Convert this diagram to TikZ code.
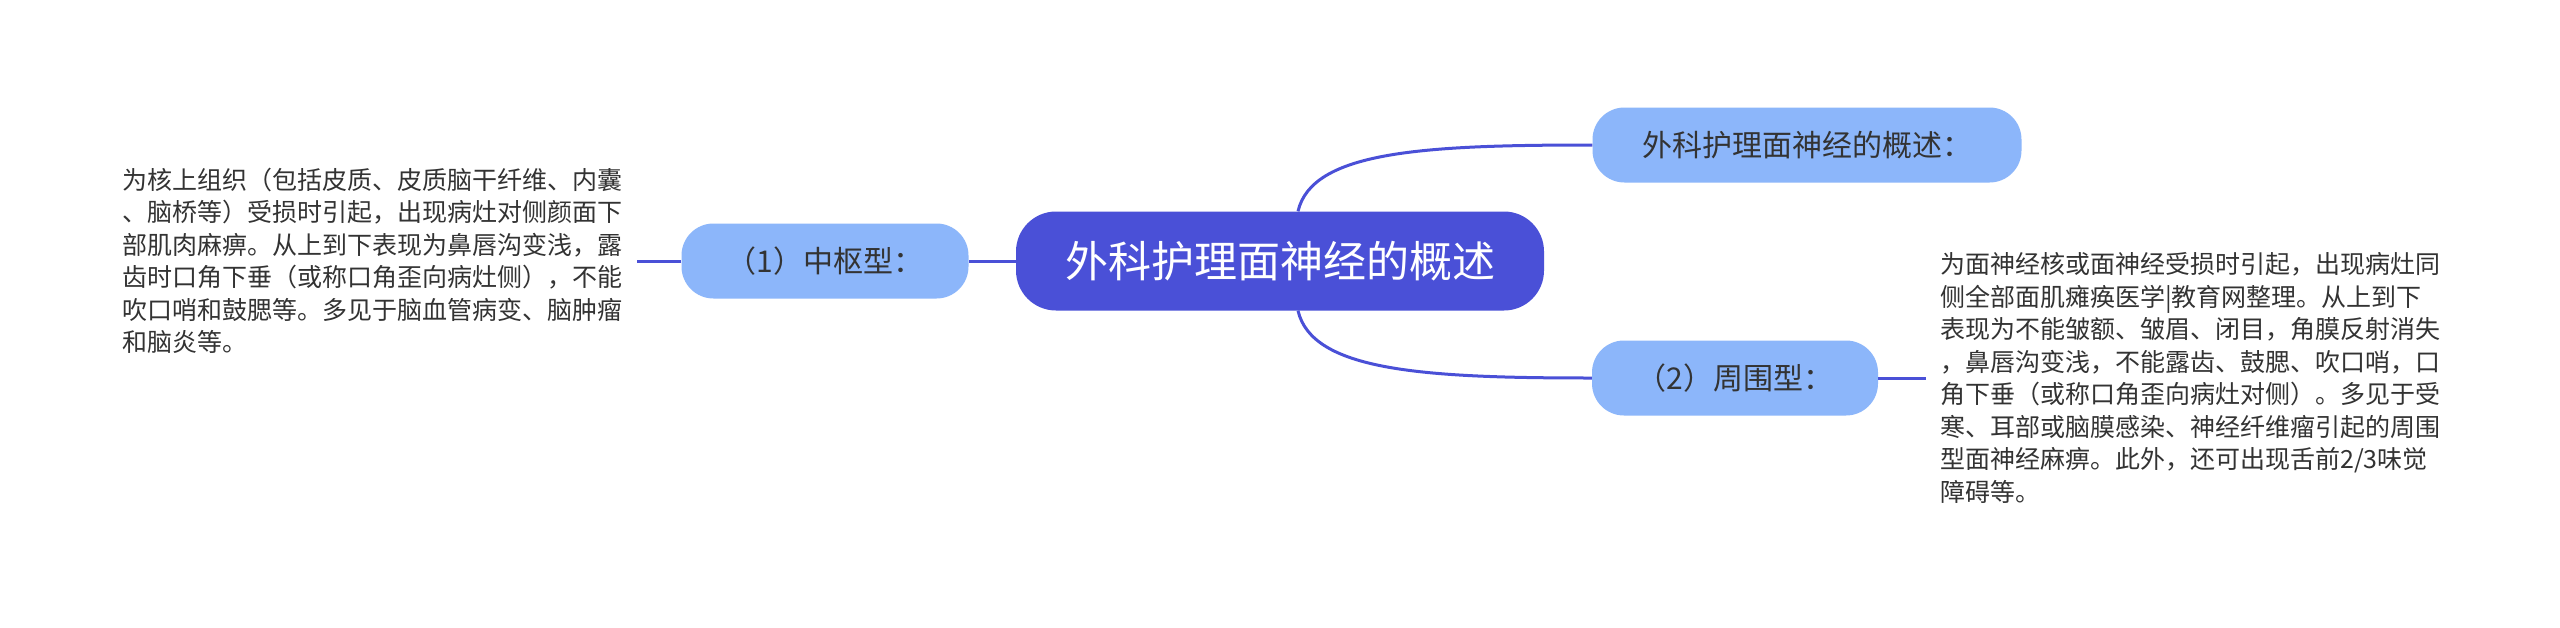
\documentclass[tikz,border=0pt]{standalone}
\usepackage{fontspec}
\setmainfont{Noto Sans CJK SC}
\definecolor{rootblue}{HTML}{4A50D7}
\definecolor{subblue}{HTML}{8CB6FA}
\definecolor{txt}{HTML}{333333}
\tikzset{
  root/.style={fill=rootblue, rounded corners=40pt, minimum width=528pt, minimum height=99pt, inner sep=0pt, text=white, font=\fontsize{43}{50}\selectfont},
  sub/.style={fill=subblue, rounded corners=32pt, minimum height=75pt, inner sep=0pt, text=txt, font=\fontsize{30}{36}\selectfont},
  para/.style={text width=500pt, align=left, inner sep=0pt, text=txt, font=\fontsize{25}{32.5}\selectfont},
  link/.style={draw=rootblue, line width=3pt}
}
\begin{document}
\begin{tikzpicture}[x=1pt,y=-1pt]
\useasboundingbox[fill=white] (0,0) rectangle (2560,627);
\node[root] (c) at (1280,261) {外科护理面神经的概述};
\node[sub, minimum width=429pt] (t) at (1807,145) {外科护理面神经的概述：};
\node[sub, minimum width=286pt] (b) at (1735,378) {（2）周围型：};
\node[sub, minimum width=287pt] (l) at (825,261) {（1）中枢型：};
\node[para, anchor=west] (lt) at (122,261) {为核上组织（包括皮质、皮质脑干纤维、内囊\\、脑桥等）受损时引起，出现病灶对侧颜面下\\部肌肉麻痹。从上到下表现为鼻唇沟变浅，露\\齿时口角下垂（或称口角歪向病灶侧），不能\\吹口哨和鼓腮等。多见于脑血管病变、脑肿瘤\\和脑炎等。};
\node[para, anchor=west] (rt) at (1940,378) {为面神经核或面神经受损时引起，出现病灶同\\侧全部面肌瘫痪医学|教育网整理。从上到下\\表现为不能皱额、皱眉、闭目，角膜反射消失\\，鼻唇沟变浅，不能露齿、鼓腮、吹口哨，口\\角下垂（或称口角歪向病灶对侧）。多见于受\\寒、耳部或脑膜感染、神经纤维瘤引起的周围\\型面神经麻痹。此外，还可出现舌前2/3味觉\\障碍等。};
\draw[link] ([xshift=18pt]c.north) .. controls ([xshift=32pt,yshift=60pt]c.north) and ([xshift=-170pt]t.west) .. (t.west);
\draw[link] ([xshift=18pt]c.south) .. controls ([xshift=32pt,yshift=-60pt]c.south) and ([xshift=-170pt]b.west) .. (b.west);
\draw[link] (c.west) -- (l.east);
\draw[link] (l.west) -- ([xshift=15pt]lt.east);
\draw[link] (b.east) -- ([xshift=-14pt]rt.west);
\end{tikzpicture}
\end{document}
